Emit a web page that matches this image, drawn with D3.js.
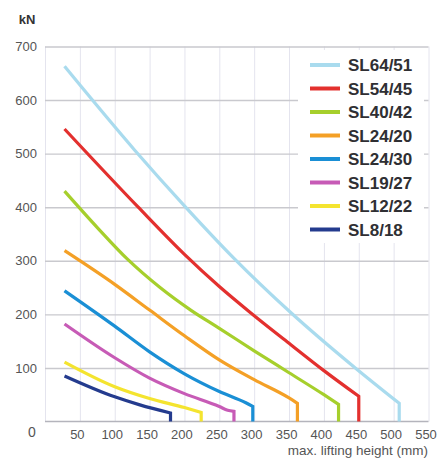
<!DOCTYPE html>
<html>
<head>
<meta charset="utf-8">
<script src="https://cdn.jsdelivr.net/npm/d3@7"></script>
<style>
  html, body { margin: 0; padding: 0; background: #fff; }
  svg { display: block; font-family: "Liberation Sans", Arial, sans-serif; }
</style>
</head>
<body>
<div id="chart"></div>
<script>
// series names and colours (legend order)
const names = ["SL64/51", "SL54/45", "SL40/42", "SL24/20", "SL24/30", "SL19/27", "SL12/22", "SL8/18"];
const colors = ["#a9dbee", "#e3302e", "#a6cf2c", "#f4a026", "#1a8fd5", "#c75bb6", "#f4e42f", "#243b8e"];

// lifting height (mm) / load (kN)
const sl6451H = [28, 129, 199, 270, 352, 445, 508];
const sl6451kN = [663, 506, 404, 306, 204, 100, 34];
const sl5445H = [28, 133, 200, 250, 293, 350, 400, 450];
const sl5445kN = [546, 401, 312, 252, 205, 146, 95, 47];
const sl4042H = [28, 75, 119, 165, 210, 250, 300, 350, 400, 421];
const sl4042kN = [430, 362, 302, 250, 207, 174, 132, 91, 50, 32];
const sl2420H = [28, 100, 150, 200, 250, 300, 350, 362];
const sl2420kN = [319, 256, 208, 160, 115, 78, 44, 34];
const sl2430H = [28, 100, 150, 200, 250, 288, 298];
const sl2430kN = [244, 178, 130, 89, 56, 35, 28];
const sl1927H = [28, 100, 150, 200, 250, 262, 271];
const sl1927kN = [182, 119, 81, 52, 28, 21, 19];
const sl1222H = [28, 100, 150, 200, 224];
const sl1222kN = [111, 65, 43, 26, 17];
const sl818H = [28, 100, 136, 180];
const sl818kN = [85, 46, 31, 16];

const heights = [sl6451H, sl5445H, sl4042H, sl2420H, sl2430H, sl1927H, sl1222H, sl818H];
const loads = [sl6451kN, sl5445kN, sl4042kN, sl2420kN, sl2430kN, sl1927kN, sl1222kN, sl818kN];

const xTicks = [50, 100, 150, 200, 250, 300, 350, 400, 450, 500, 550];
const yTicks = [100, 200, 300, 400, 500, 600, 700];

const W = 438, H = 459;
const plot = { left: 45, right: 428.5, top: 46.5, bottom: 421.5 };

const svg = d3.select("#chart").append("svg")
    .attr("width", W)
    .attr("height", H);

const x = d3.scaleLinear().domain([0, 550]).range([plot.left, plot.right]);
const y = d3.scaleLinear().domain([0, 700]).range([plot.bottom, plot.top]);

// vertical grid
svg.append("g")
    .attr("transform", "translate(0," + plot.bottom + ")")
    .call(d3.axisBottom(x).tickValues([0].concat(xTicks)).tickSize(-(plot.bottom - plot.top)).tickFormat(""))
    .call(g => g.select(".domain").remove())
    .call(g => g.selectAll("line").attr("stroke", "#e4e4ee").attr("stroke-width", 1));

// horizontal grid
svg.append("g")
    .attr("transform", "translate(" + plot.left + ",0)")
    .call(d3.axisLeft(y).tickValues(yTicks).tickSize(-(plot.right - plot.left)).tickFormat(""))
    .call(g => g.select(".domain").remove())
    .call(g => g.selectAll("line").attr("stroke", "#c9c9ce").attr("stroke-width", 1.4));

// baseline
svg.append("line")
    .attr("x1", x(0)).attr("x2", x(550))
    .attr("y1", y(0)).attr("y2", y(0))
    .attr("stroke", "#b4b4bc").attr("stroke-width", 1.6);

// y labels
svg.append("g")
    .attr("transform", "translate(" + plot.left + ",0)")
    .call(d3.axisLeft(y).tickValues(yTicks).tickSize(0).tickPadding(8))
    .call(g => g.select(".domain").remove())
    .call(g => g.selectAll("text")
        .attr("fill", "#555")
        .style("font-size", "13px")
        .style("font-family", "'Liberation Sans', Arial, sans-serif"));

svg.append("text")
    .attr("x", 32).attr("y", 432).attr("dy", "0.35em")
    .attr("text-anchor", "middle")
    .attr("fill", "#555")
    .style("font-size", "14px")
    .text("0");

// x labels
svg.append("g")
    .attr("transform", "translate(0," + plot.bottom + ")")
    .call(d3.axisBottom(x).tickValues(xTicks).tickSize(0).tickPadding(8))
    .call(g => g.select(".domain").remove())
    .call(g => g.selectAll("text")
        .attr("dx", -3)
        .attr("fill", "#555")
        .style("font-size", "13px")
        .style("font-family", "'Liberation Sans', Arial, sans-serif"));

svg.append("text")
    .attr("x", 27).attr("y", 19).attr("dy", "0.35em")
    .attr("text-anchor", "middle")
    .attr("fill", "#333")
    .style("font-size", "13px")
    .style("font-weight", "bold")
    .text("kN");

svg.append("text")
    .attr("x", 428).attr("y", 450).attr("dy", "0.35em")
    .attr("text-anchor", "end")
    .attr("fill", "#555")
    .style("font-size", "13.5px")
    .text("max. lifting height (mm)");

// curves: smooth part, then straight drop to 0 at the max height
const smooth = d3.line()
    .x(d => x(d[0]))
    .y(d => y(d[1]))
    .curve(d3.curveMonotoneX);

for (let i = names.length - 1; i >= 0; i--) {
    let pts = heights[i].map((h, j) => [h, loads[i][j]]);
    let last = heights[i][heights[i].length - 1];
    svg.append("path")
        .attr("d", smooth(pts) + "L" + x(last) + "," + y(0))
        .attr("fill", "none")
        .attr("stroke", colors[i])
        .attr("stroke-width", 3.2)
        .attr("stroke-linejoin", "miter");
}

// legend
const lg = svg.append("g");
lg.append("rect")
    .attr("x", 298).attr("y", 50)
    .attr("width", 126).attr("height", 193)
    .attr("fill", "#fff");

const rowY = d3.scaleLinear().domain([0, 7]).range([65, 229.5]);
names.forEach((n, i) => {
    lg.append("line")
        .attr("x1", 310).attr("x2", 340)
        .attr("y1", rowY(i)).attr("y2", rowY(i))
        .attr("stroke", colors[i])
        .attr("stroke-width", 4);
    lg.append("text")
        .attr("x", 348).attr("y", rowY(i)).attr("dy", "0.36em")
        .attr("fill", "#2f2f33")
        .style("font-size", "17px")
        .style("font-weight", "bold")
        .text(n);
});
</script>
</body>
</html>
